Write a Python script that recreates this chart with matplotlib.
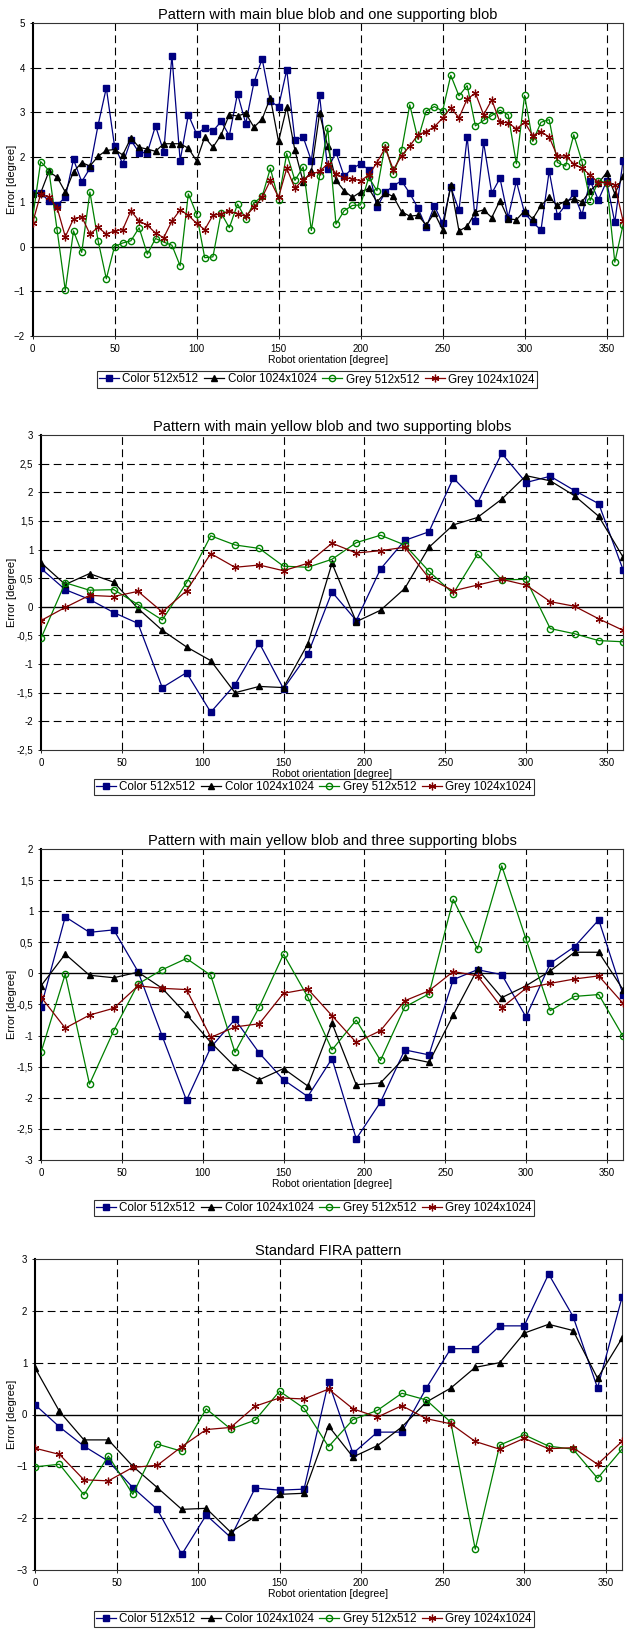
import matplotlib
matplotlib.use("Agg")
import matplotlib.pyplot as plt
from matplotlib.ticker import FuncFormatter
import numpy as np

plt.rcParams['font.family'] = ['Liberation Sans', 'DejaVu Sans']

SERIES_NAMES = ["Color 512x512", "Color 1024x1024", "Grey 512x512", "Grey 1024x1024"]
TITLES = [
    "Pattern with main blue blob and one supporting blob",
    "Pattern with main yellow blob and two supporting blobs",
    "Pattern with main yellow blob and three supporting blobs",
    "Standard FIRA pattern",
]

# panel 1: every 5 degrees
angles_fine = np.arange(0, 361, 5)
blue1_color512 = [1.2, 1.2, 1.02, 0.93, 1.1, 1.95, 1.45, 1.75, 2.72, 3.55, 2.25, 1.85, 2.38, 2.1, 2.1,
                  2.7, 2.12, 4.27, 1.92, 2.95, 2.52, 2.65, 2.58, 2.8, 2.48, 3.42, 2.75, 3.67, 4.2, 3.25,
                  3.13, 3.95, 2.38, 2.45, 1.92, 3.38, 1.73, 2.11, 1.57, 1.75, 1.85, 1.72, 0.88, 1.21,
                  1.36, 1.47, 1.19, 0.86, 0.43, 0.91, 0.52, 1.33, 0.81, 2.45, 0.57, 2.33, 1.19, 1.53,
                  0.65, 1.46, 0.75, 0.54, 0.37, 1.69, 0.69, 0.93, 1.19, 0.71, 1.47, 1.04, 1.46, 0.54, 1.92]
blue1_color1024 = [1.18, 1.2, 1.68, 1.55, 1.22, 1.67, 1.88, 1.8, 2.02, 2.15, 2.17, 2.05, 2.43, 2.22,
                   2.18, 2.13, 2.3, 2.3, 2.3, 2.2, 1.92, 2.45, 2.22, 2.5, 2.95, 2.92, 2.98, 2.67, 2.85,
                   3.33, 2.35, 3.12, 2.15, 1.45, 1.68, 2.98, 2.24, 1.48, 1.25, 1.1, 1.22, 1.3, 1.0, 1.2,
                   1.12, 0.78, 0.68, 0.7, 0.48, 0.75, 0.38, 1.38, 0.35, 0.45, 0.77, 0.82, 0.65, 1.03,
                   0.62, 0.6, 0.8, 0.62, 0.92, 1.1, 0.92, 1.02, 1.07, 1.0, 1.25, 1.42, 1.65, 1.18, 1.58]
blue1_grey512 = [0.62, 1.9, 1.7, 0.37, -0.98, 0.35, -0.13, 1.22, 0.13, -0.72, 0.0, 0.08, 0.13, 0.42,
                 -0.17, 0.18, 0.1, 0.03, -0.43, 1.18, 0.73, -0.25, -0.23, 0.75, 0.42, 0.95, 0.62, 0.98,
                 1.12, 1.75, 1.05, 2.08, 1.48, 1.78, 0.36, 1.57, 2.65, 0.5, 0.8, 0.92, 0.93, 1.55, 1.25,
                 2.28, 1.62, 2.15, 3.17, 2.4, 3.03, 3.13, 3.03, 3.83, 3.37, 3.6, 2.7, 2.82, 2.93, 3.05,
                 2.95, 1.85, 3.38, 2.35, 2.78, 2.84, 1.88, 1.8, 2.5, 1.9, 1.03, 1.47, 1.43, -0.35, 0.48]
blue1_grey1024 = [0.52, 1.18, 1.1, 0.87, 0.22, 0.62, 0.67, 0.28, 0.43, 0.28, 0.35, 0.38, 0.8, 0.57,
                  0.48, 0.3, 0.2, 0.57, 0.82, 0.7, 0.52, 0.38, 0.7, 0.73, 0.8, 0.73, 0.68, 0.88, 1.1,
                  1.48, 1.1, 1.75, 1.3, 1.5, 1.62, 1.68, 1.85, 1.63, 1.53, 1.52, 1.47, 1.6, 1.88, 2.2,
                  1.72, 2.03, 2.25, 2.5, 2.57, 2.68, 2.87, 3.1, 2.88, 3.3, 3.43, 2.95, 3.28, 2.78, 2.77,
                  2.63, 2.78, 2.48, 2.57, 2.45, 2.02, 2.03, 1.85, 1.75, 1.6, 1.43, 1.43, 1.38, 0.58]

# panels 2-4: every 15 degrees
angles = np.arange(0, 361, 15)
yel2_color512 = [0.67, 0.3, 0.13, -0.1, -0.29, -1.41, -1.15, -1.84, -1.36, -0.63, -1.43, -0.83, 0.26,
                 -0.24, 0.66, 1.16, 1.31, 2.25, 1.81, 2.68, 2.17, 2.28, 2.03, 1.8, 0.65]
yel2_color1024 = [0.77, 0.39, 0.58, 0.43, -0.03, -0.41, -0.7, -0.94, -1.5, -1.39, -1.41, -0.65, 0.76,
                  -0.26, -0.06, 0.32, 1.04, 1.43, 1.56, 1.88, 2.29, 2.2, 1.94, 1.58, 0.87]
yel2_grey512 = [-0.55, 0.42, 0.29, 0.3, 0.04, -0.23, 0.42, 1.24, 1.08, 1.02, 0.71, 0.69, 0.83, 1.12,
                1.25, 1.08, 0.62, 0.23, 0.92, 0.47, 0.48, -0.38, -0.47, -0.59, -0.61]
yel2_grey1024 = [-0.24, -0.01, 0.2, 0.18, 0.27, -0.09, 0.28, 0.93, 0.69, 0.73, 0.63, 0.76, 1.11, 0.94,
                 0.98, 1.04, 0.5, 0.28, 0.38, 0.48, 0.38, 0.09, 0.01, -0.21, -0.41]

yel3_color512 = [-0.54, 0.91, 0.66, 0.7, 0.03, -1.01, -2.04, -1.19, -0.74, -1.28, -1.71, -1.98, -1.37,
                 -2.66, -2.07, -1.23, -1.31, -0.1, 0.06, -0.02, -0.7, 0.16, 0.43, 0.86, -0.34]
yel3_color1024 = [-0.2, 0.31, -0.03, -0.07, 0.02, -0.24, -0.66, -1.11, -1.5, -1.71, -1.53, -1.81, -0.8,
                  -1.79, -1.76, -1.35, -1.43, -0.67, 0.07, -0.39, -0.2, 0.04, 0.34, 0.34, -0.26]
yel3_grey512 = [-1.27, -0.01, -1.78, -0.92, -0.17, 0.06, 0.24, -0.03, -1.27, -0.54, 0.31, -0.38, -1.23,
                -0.75, -1.4, -0.54, -0.33, 1.19, 0.39, 1.73, 0.55, -0.6, -0.37, -0.34, -1.01]
yel3_grey1024 = [-0.38, -0.88, -0.67, -0.56, -0.2, -0.24, -0.26, -1.03, -0.86, -0.81, -0.32, -0.25,
                 -0.68, -1.11, -0.92, -0.44, -0.28, 0.03, -0.04, -0.55, -0.24, -0.16, -0.09, -0.04, -0.48]

fira_color512 = [0.19, -0.24, -0.61, -0.9, -1.41, -1.83, -2.7, -1.94, -2.37, -1.42, -1.46, -1.44, 0.63,
                 -0.75, -0.34, -0.34, 0.51, 1.27, 1.27, 1.71, 1.71, 2.71, 1.89, 0.51, 2.26]
fira_color1024 = [0.9, 0.06, -0.49, -0.49, -1.0, -1.41, -1.83, -1.81, -2.27, -1.97, -1.54, -1.52, -0.22,
                  -0.82, -0.6, -0.24, 0.24, 0.51, 0.91, 1.0, 1.57, 1.74, 1.62, 0.7, 1.47]
fira_grey512 = [-1.01, -0.96, -1.55, -0.8, -1.54, -0.57, -0.71, 0.11, -0.28, -0.11, 0.45, 0.12, -0.62,
                -0.1, 0.08, 0.41, 0.28, -0.15, -2.6, -0.59, -0.39, -0.61, -0.67, -1.23, -0.67]
fira_grey1024 = [-0.65, -0.77, -1.26, -1.28, -1.02, -0.98, -0.62, -0.29, -0.25, 0.16, 0.32, 0.3, 0.49,
                 0.11, -0.05, 0.17, -0.08, -0.18, -0.52, -0.67, -0.46, -0.66, -0.64, -0.96, -0.52]

y_ranges = [(-2, 5, 1), (-2.5, 3, 0.5), (-3, 2, 0.5), (-3, 3, 1)]

STYLES = [
    dict(color="#000080", marker="s", markersize=4.5, markerfacecolor="#000080"),
    dict(color="black", marker="^", markersize=4.5, markerfacecolor="black"),
    dict(color="#008000", marker="o", markersize=4.5, markerfacecolor="none"),
    dict(color="#800000", marker=(6, 2, 0), markersize=5.5, markeredgewidth=0.9),
]

# axes boxes in pixels: left, top, right, bottom
AX_BOXES = [(32.5, 23, 623, 336), (41, 435, 623, 750), (41, 849, 623, 1160), (35, 1259, 622, 1570)]
LEGEND_POS = [(317, 379.5), (314, 787), (314, 1208), (314, 1619)]

W, H = 628, 1629


def comma_fmt(v, pos):
    s = ("%g" % round(v, 2))
    return s.replace(".", ",")


def draw_panel(fig, idx, x, series):
    l, t, r, b = AX_BOXES[idx]
    ax = fig.add_axes([l / W, 1 - b / H, (r - l) / W, (b - t) / H])
    lo, hi, step = y_ranges[idx]
    yt = np.arange(lo, hi + step / 2, step)

    for y in yt:
        if abs(y) < 1e-9:
            ax.axhline(0, color="black", lw=1.0, zorder=1)
        elif lo < y < hi:
            ax.axhline(y, color="black", lw=0.8, dashes=(7, 4), zorder=1)
    for xv in range(50, 360, 50):
        ax.axvline(xv, color="black", lw=0.8, dashes=(7, 4), zorder=1)

    handles = []
    for vals, name, st in zip(series, SERIES_NAMES, STYLES):
        h, = ax.plot(x, vals, lw=0.9, label=name, zorder=3, **st)
        handles.append(h)

    ax.set_xlim(0, 360)
    ax.set_ylim(lo, hi)
    ax.set_xticks(range(0, 360, 50))
    ax.set_yticks(yt)
    if step < 1:
        ax.yaxis.set_major_formatter(FuncFormatter(comma_fmt))
    ax.tick_params(labelsize=7, length=2, width=0.6, direction="out")
    for side in ["top", "right", "bottom"]:
        ax.spines[side].set_linewidth(0.8)
        ax.spines[side].set_color("#333333")
    ax.spines["left"].set_linewidth(1.5)

    ax.set_title(TITLES[idx], fontsize=10.5, pad=3)
    ax.set_xlabel("Robot orientation [degree]", fontsize=7.5, labelpad=1)
    ax.set_ylabel("Error [degree]", fontsize=8)
    # label centre about 12 px from the left edge of the figure
    ax.yaxis.set_label_coords(-(l - 12) / (r - l), 0.5)
    ax.yaxis.label.set_va("center")

    lx, ly = LEGEND_POS[idx]
    leg = fig.legend(handles=handles, loc="center", bbox_to_anchor=(lx / W, 1 - ly / H),
                     ncol=4, fontsize=8.4, frameon=True, fancybox=False, handlelength=1.7,
                     handletextpad=0.3, columnspacing=0.5, borderpad=0.2, borderaxespad=0)
    leg.get_frame().set_edgecolor("black")
    leg.get_frame().set_linewidth(0.8)
    return ax


if __name__ == "__main__":
    fig = plt.figure(figsize=(W / 100, H / 100), dpi=100)
    draw_panel(fig, 0, angles_fine, [blue1_color512, blue1_color1024, blue1_grey512, blue1_grey1024])
    draw_panel(fig, 1, angles, [yel2_color512, yel2_color1024, yel2_grey512, yel2_grey1024])
    draw_panel(fig, 2, angles, [yel3_color512, yel3_color1024, yel3_grey512, yel3_grey1024])
    draw_panel(fig, 3, angles, [fira_color512, fira_color1024, fira_grey512, fira_grey1024])
    fig.savefig("out.png", dpi=100)
